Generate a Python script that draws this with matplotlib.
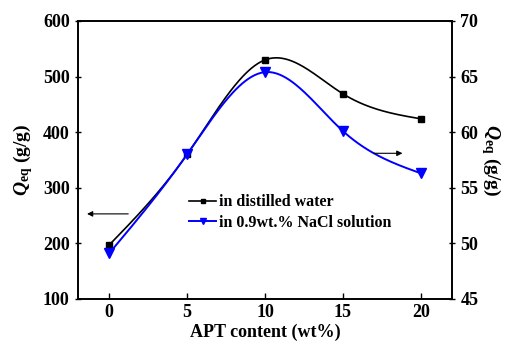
import numpy as np
import matplotlib
matplotlib.use('Agg')
import matplotlib.pyplot as plt

# Dados
apt = [0, 5, 10, 15, 20]
q_agua = [197, 360, 530, 469, 424]          # eixo esquerdo (g/g)
q_nacl = [49.1, 58.0, 65.4, 60.1, 56.3]     # eixo direito (g/g)


def spline_natural(x, y, n=200):
    # Spline cúbica natural só para suavizar a linha entre os pontos
    x = np.asarray(x, float)
    y = np.asarray(y, float)
    k = len(x)
    h = np.diff(x)
    A = np.zeros((k, k))
    b = np.zeros(k)
    A[0, 0] = A[-1, -1] = 1
    for i in range(1, k - 1):
        A[i, i - 1] = h[i - 1]
        A[i, i] = 2 * (h[i - 1] + h[i])
        A[i, i + 1] = h[i]
        b[i] = 3 * ((y[i + 1] - y[i]) / h[i] - (y[i] - y[i - 1]) / h[i - 1])
    c = np.linalg.solve(A, b)
    xs = np.linspace(x[0], x[-1], n)
    ys = np.empty_like(xs)
    for j, xv in enumerate(xs):
        i = min(np.searchsorted(x, xv, side='right') - 1, k - 2)
        d = xv - x[i]
        bi = (y[i + 1] - y[i]) / h[i] - h[i] * (2 * c[i] + c[i + 1]) / 3
        di = (c[i + 1] - c[i]) / (3 * h[i])
        ys[j] = y[i] + bi * d + c[i] * d ** 2 + di * d ** 3
    return xs, ys


plt.rcParams['font.family'] = 'Liberation Serif'
plt.rcParams['font.weight'] = 'bold'
plt.rcParams['axes.labelweight'] = 'bold'
plt.rcParams['mathtext.fontset'] = 'custom'
plt.rcParams['mathtext.rm'] = 'Liberation Serif:bold'
plt.rcParams['mathtext.it'] = 'Liberation Serif:italic:bold'
plt.rcParams['mathtext.bf'] = 'Liberation Serif:bold'

fig = plt.figure(figsize=(5.05, 3.44), dpi=100)
ax = fig.add_axes([0.1545, 0.131, 0.7405, 0.808])
ax2 = ax.twinx()

xs, ys = spline_natural(apt, q_agua)
ax.plot(xs, ys, color='black', lw=1.2)
ax.plot(apt, q_agua, 's', color='black', ms=4.5)

xs, ys = spline_natural(apt, q_nacl)
ax2.plot(xs, ys, color='blue', lw=1.4)
ax2.plot(apt, q_nacl, 'v', color='blue', ms=6.5)

ax.set_xlim(-2, 22)
ax.set_ylim(100, 600)
ax2.set_ylim(45, 70)
ax.set_xticks([0, 5, 10, 15, 20])
ax.set_yticks([100, 200, 300, 400, 500, 600])
ax2.set_yticks([45, 50, 55, 60, 65, 70])

ax.tick_params(axis='x', direction='in', length=4, width=1, labelsize=13, top=False)
ax.tick_params(axis='y', direction='inout', length=5, width=1, labelsize=13)
ax2.tick_params(axis='y', direction='inout', length=5, width=1, labelsize=13)
for a in (ax, ax2):
    for s in a.spines.values():
        s.set_linewidth(1.2)

ax.set_xlabel('APT content (wt%)', fontsize=13, fontweight='bold', labelpad=2)
ax.set_ylabel(r'$\mathit{Q}_{\mathbf{eq}}$ (g/g)', fontsize=14, fontweight='bold', labelpad=6)
ax2.set_ylabel(r'$\mathit{Q}_{\mathbf{eq}}$ (g/g)', fontsize=14, fontweight='bold',
               rotation=270, labelpad=18)

# Setas indicando o eixo de cada curva
ax.annotate('', xy=(-1.6, 253), xytext=(1.4, 253),
            arrowprops=dict(arrowstyle='-|>', color='black', lw=0.8, mutation_scale=8))
ax2.annotate('', xy=(19.0, 58.1), xytext=(16.8, 58.1),
             arrowprops=dict(arrowstyle='-|>', color='black', lw=0.8, mutation_scale=8))

h1, = ax.plot([], [], 's-', color='black', ms=3.5, lw=1.2)
h2, = ax2.plot([], [], 'v-', color='blue', ms=4.5, lw=1.4)
ax.legend([h1, h2], ['in distilled water', 'in 0.9wt.% NaCl solution'],
          loc='upper left', bbox_to_anchor=(0.28, 0.40), frameon=False,
          handlelength=1.7, handletextpad=0.2, labelspacing=0.3,
          borderaxespad=0, prop={'size': 11.5, 'weight': 'bold'})

fig.savefig('out.png', dpi=100)
